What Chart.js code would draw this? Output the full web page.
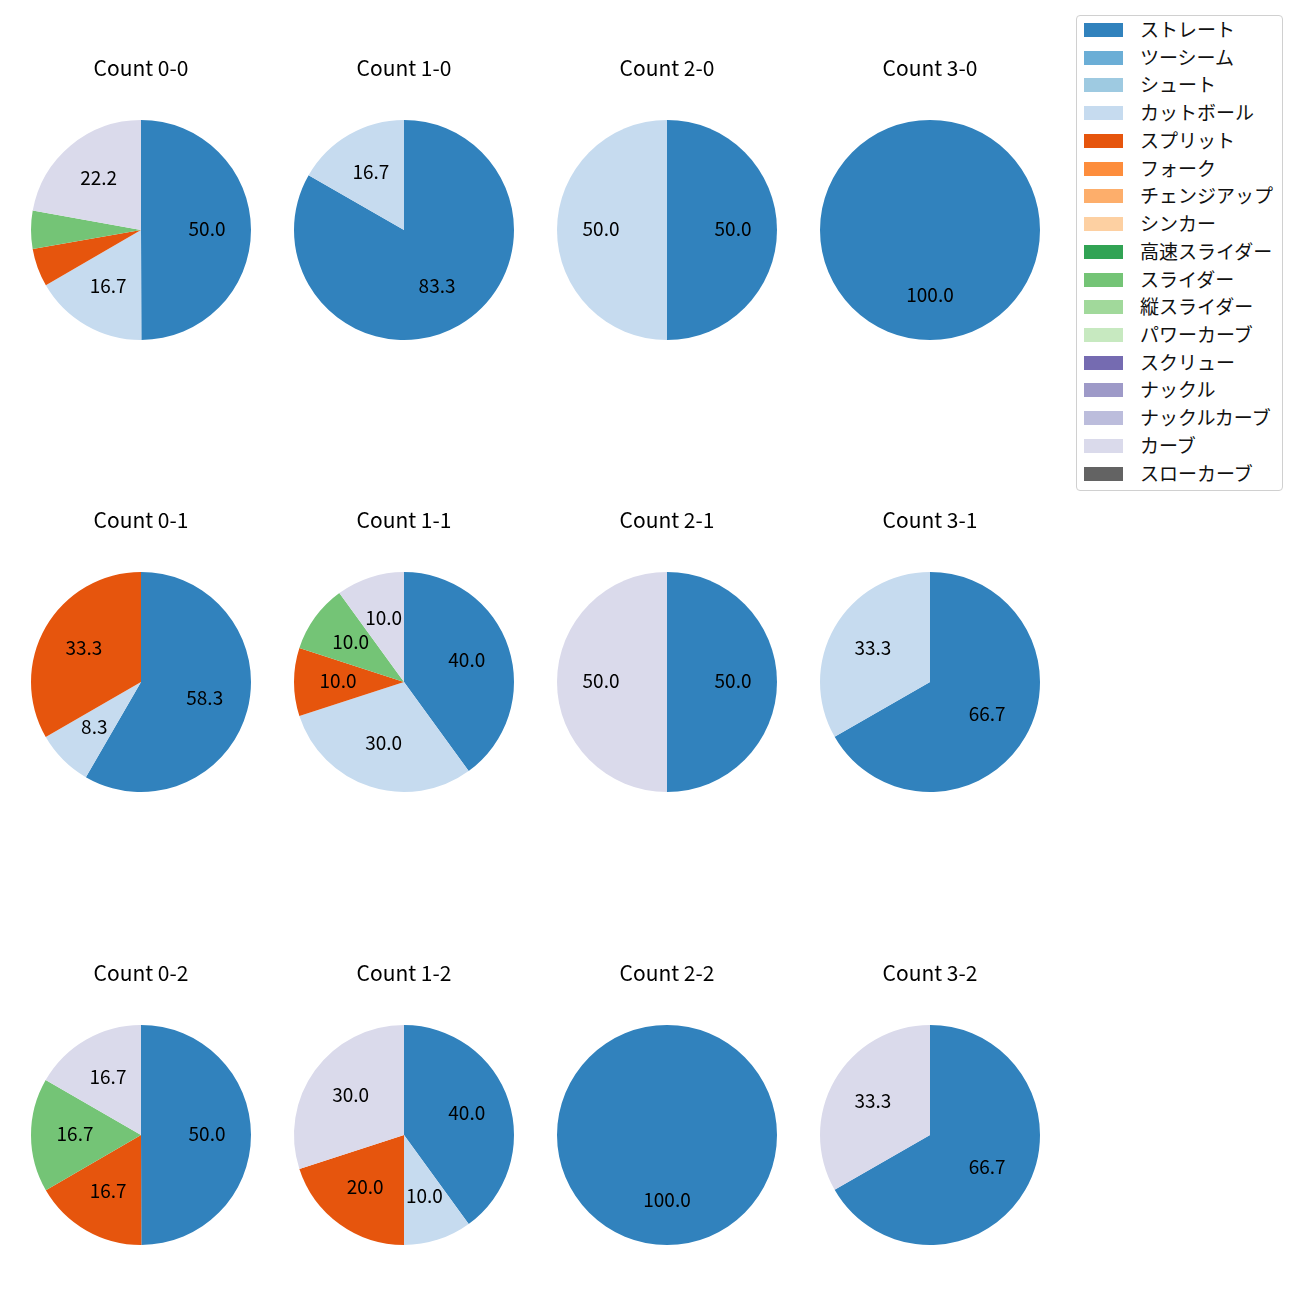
<!DOCTYPE html>
<html>
<head>
<meta charset="utf-8">
<script src="https://cdn.jsdelivr.net/npm/chart.js@4.4.1/dist/chart.umd.min.js"></script>
<style>
  html, body { margin:0; padding:0; background:#fff; }
  body { width:1300px; height:1300px; position:relative; overflow:hidden; font-family:'Noto Sans CJK JP', sans-serif; }
  .pie { position:absolute; width:260px; height:320px; }
  #legend { position:absolute; left:1076px; top:15px; width:205px; height:474px; border:1px solid #d0d0d0; border-radius:4px; box-sizing:content-box; }
  .item { position:absolute; left:0; height:20px; }
  .sw { position:absolute; left:7px; width:39px; height:14px; }
  .lt { position:absolute; left:63px; font-size:19px; line-height:20px; color:#111; white-space:nowrap; }
</style>
</head>
<body>
<div id="legend"></div>
<script>
// ---- data ----
const pitchTypes = ['ストレート','ツーシーム','シュート','カットボール','スプリット','フォーク','チェンジアップ','シンカー','高速スライダー','スライダー','縦スライダー','パワーカーブ','スクリュー','ナックル','ナックルカーブ','カーブ','スローカーブ'];
const pitchColors = ['#3182bd','#6baed6','#9ecae1','#c6dbef','#e6550d','#fd8d3c','#fdae6b','#fdd0a2','#31a354','#74c476','#a1d99b','#c7e9c0','#756bb1','#9e9ac8','#bcbddc','#dadaeb','#636363'];

const countTitles = ['Count 0-0','Count 1-0','Count 2-0','Count 3-0',
                     'Count 0-1','Count 1-1','Count 2-1','Count 3-1',
                     'Count 0-2','Count 1-2','Count 2-2','Count 3-2'];
// pitch labels and percentages per count (clockwise from top)
const labels00 = ['ストレート','カットボール','スプリット','スライダー','カーブ'];
const values00 = [50.0, 16.7, 5.6, 5.6, 22.2];
const labels10 = ['ストレート','カットボール'];
const values10 = [83.3, 16.7];
const labels20 = ['ストレート','カットボール'];
const values20 = [50.0, 50.0];
const labels30 = ['ストレート'];
const values30 = [100.0];
const labels01 = ['ストレート','カットボール','スプリット'];
const values01 = [58.3, 8.3, 33.3];
const labels11 = ['ストレート','カットボール','スプリット','スライダー','カーブ'];
const values11 = [40.0, 30.0, 10.0, 10.0, 10.0];
const labels21 = ['ストレート','カーブ'];
const values21 = [50.0, 50.0];
const labels31 = ['ストレート','カットボール'];
const values31 = [66.7, 33.3];
const labels02 = ['ストレート','スプリット','スライダー','カーブ'];
const values02 = [50.0, 16.7, 16.7, 16.7];
const labels12 = ['ストレート','カットボール','スプリット','カーブ'];
const values12 = [40.0, 10.0, 20.0, 30.0];
const labels22 = ['ストレート'];
const values22 = [100.0];
const labels32 = ['ストレート','カーブ'];
const values32 = [66.7, 33.3];

const pieLabels = [labels00,labels10,labels20,labels30,labels01,labels11,labels21,labels31,labels02,labels12,labels22,labels32];
const pieValues = [values00,values10,values20,values30,values01,values11,values21,values31,values02,values12,values22,values32];

// ---- layout ----
const colX = [141, 404, 667, 930];
const rowY = [230, 682, 1135];
const FONT = "'Noto Sans CJK JP', sans-serif";

const pctLabelPlugin = {
  id: 'pctLabels',
  afterDatasetsDraw(chart) {
    const ctx = chart.ctx;
    const meta = chart.getDatasetMeta(0);
    const vals = chart.data.datasets[0].data;
    ctx.save();
    ctx.font = '19px ' + FONT;
    ctx.fillStyle = '#000';
    ctx.textAlign = 'center';
    ctx.textBaseline = 'middle';
    meta.data.forEach((arc, i) => {
      const v = vals[i];
      if (v < 6) return;
      const p = arc.getProps(['x','y','startAngle','endAngle','outerRadius'], true);
      const a = (p.startAngle + p.endAngle) / 2;
      const r = p.outerRadius * 0.6;
      ctx.fillText(v.toFixed(1), p.x + Math.cos(a) * r, p.y + Math.sin(a) * r - 1.5);
    });
    ctx.restore();
  }
};

for (let i = 0; i < 12; i++) {
  const cx = colX[i % 4], cy = rowY[Math.floor(i / 4)];
  const cv = document.createElement('canvas');
  cv.className = 'pie';
  cv.width = 260; cv.height = 320;
  cv.style.left = (cx - 130) + 'px';
  cv.style.top = (cy - 200) + 'px';
  document.body.appendChild(cv);
  const labs = pieLabels[i];
  new Chart(cv, {
    type: 'pie',
    data: {
      labels: labs,
      datasets: [{
        data: pieValues[i],
        backgroundColor: labs.map(l => pitchColors[pitchTypes.indexOf(l)]),
        borderWidth: 0,
        hoverOffset: 0,
        offset: 0
      }]
    },
    options: {
      responsive: false,
      animation: false,
      events: [],
      layout: { padding: { left: 20, right: 20, top: 0, bottom: 10 } },
      plugins: {
        legend: { display: false },
        tooltip: { enabled: false },
        title: {
          display: true,
          text: countTitles[i],
          color: '#000',
          font: { family: FONT, size: 21, weight: 'normal', lineHeight: 1.2 },
          padding: { top: 25.5, bottom: 39.3 }
        }
      }
    },
    plugins: [pctLabelPlugin]
  });
}

// ---- legend ----
const lg = document.getElementById('legend');
pitchTypes.forEach((name, k) => {
  const yc = 14 + k * 27.73;
  const sw = document.createElement('div');
  sw.className = 'sw';
  sw.style.top = (yc - 7) + 'px';
  sw.style.background = pitchColors[k];
  lg.appendChild(sw);
  const t = document.createElement('div');
  t.className = 'lt';
  t.style.top = (yc - 11) + 'px';
  t.textContent = name;
  lg.appendChild(t);
});
</script>
</body>
</html>
